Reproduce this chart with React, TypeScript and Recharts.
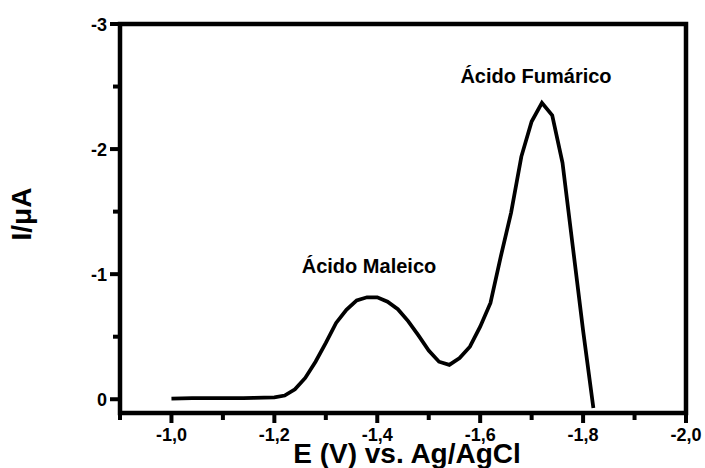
import React from 'react';
import { LineChart, Line, XAxis, YAxis } from 'recharts';

// Differential pulse voltammogram: potential (V vs. Ag/AgCl) and current (µA)
const potential = [
  -1.0, -1.02, -1.04, -1.06, -1.08, -1.1, -1.12, -1.14, -1.16, -1.18,
  -1.2, -1.22, -1.24, -1.26, -1.28, -1.3, -1.32, -1.34, -1.36, -1.38,
  -1.4, -1.42, -1.44, -1.46, -1.48, -1.5, -1.52, -1.54, -1.56, -1.58,
  -1.6, -1.62, -1.64, -1.66, -1.68, -1.7, -1.72, -1.74, -1.76, -1.78,
  -1.8, -1.82,
];
const current = [
  -0.005, -0.007, -0.008, -0.008, -0.008, -0.008, -0.008, -0.009, -0.01, -0.012,
  -0.015, -0.03, -0.08, -0.17, -0.3, -0.45, -0.61, -0.715, -0.79, -0.815,
  -0.815, -0.78, -0.72, -0.625, -0.51, -0.39, -0.3, -0.275, -0.33, -0.42,
  -0.58, -0.77, -1.14, -1.49, -1.94, -2.22, -2.37, -2.27, -1.89, -1.22,
  -0.55, 0.07,
];

const xDomain = [-2.0, -0.9];
const yDomain = [-3, 0.11];

const xMajorTicks = [-1.0, -1.2, -1.4, -1.6, -1.8, -2.0];
const xTickLabels = ['-1,0', '-1,2', '-1,4', '-1,6', '-1,8', '-2,0'];
const xMinorTicks = [-0.9, -1.1, -1.3, -1.5, -1.7, -1.9];

const yMajorTicks = [0, -1, -2, -3];
const yTickLabels = ['0', '-1', '-2', '-3'];
const yMinorTicks = [-0.5, -1.5, -2.5];

// Unlabelled divisions along the top and right borders
const frameTicks = [0, 1, 2, 3, 4, 5, 6, 7, 8, 9, 10];

const peakLabels = ['Ácido Maleico', 'Ácido Fumárico'];

const data = potential.map((e, i) => ({ e, i: current[i] }));

const FONT = '"Liberation Sans", Arial, Helvetica, sans-serif';
const W = 4.5;
const TW = 4;

// Plot box (chart pixels)
const BOX = { left: 120, top: 24, right: 686, bottom: 413 };

const XTick = (props: any) => {
  const { x, y, payload } = props;
  const px = Number(x);
  const py = Number(y);
  const idx = xMajorTicks.indexOf(payload.value);
  const major = idx >= 0;
  return (
    <g>
      <path d={`M${px},${py}V${py + (major ? 10 : 7)}`} stroke="#000" strokeWidth={TW} fill="none" />
      {major && (
        <text x={px} y={py + 28} textAnchor="middle" fontFamily={FONT} fontWeight="bold" fontSize={18} fill="#000">
          {xTickLabels[idx]}
        </text>
      )}
    </g>
  );
};

const YTick = (props: any) => {
  const { x, y, payload } = props;
  const px = Number(x);
  const py = Number(y);
  const idx = yMajorTicks.indexOf(payload.value);
  const major = idx >= 0;
  const len = major ? 10 : 7;
  return (
    <g>
      <path d={`M${px - len},${py}H${px}`} stroke="#000" strokeWidth={TW} fill="none" />
      {major && (
        <text x={px - 13} y={py + 6.5} textAnchor="end" fontFamily={FONT} fontWeight="bold" fontSize={18} fill="#000">
          {yTickLabels[idx]}
        </text>
      )}
    </g>
  );
};

const TopTick = (props: any) => {
  const px = Number(props.x);
  const py = Number(props.y);
  return <path d={`M${px},${py}V${py - 4}`} stroke="#000" strokeWidth={3} fill="none" />;
};

const RightTick = (props: any) => {
  const px = Number(props.x);
  const py = Number(props.y);
  return <path d={`M${px},${py}H${px + 5}`} stroke="#000" strokeWidth={3} fill="none" />;
};

export default function App() {
  const frame = `M${BOX.left},${BOX.top}H${BOX.right}V${BOX.bottom}H${BOX.left}Z`;
  return (
    <div style={{ position: 'absolute', left: 0, top: 0, width: 705, height: 468 }}>
      <LineChart width={705} height={468} data={data} margin={{ top: 24, right: 19, bottom: 0, left: 0 }}>
        <XAxis
          xAxisId="main"
          dataKey="e"
          type="number"
          domain={xDomain}
          reversed
          allowDataOverflow
          ticks={[...xMinorTicks, ...xMajorTicks].sort((a, b) => b - a)}
          interval={0}
          tick={<XTick />}
          tickLine={false}
          tickSize={0}
          tickMargin={0}
          axisLine={false}
          height={55}
        />
        <XAxis
          xAxisId="top"
          orientation="top"
          type="number"
          domain={[0, 10]}
          ticks={frameTicks}
          interval={0}
          tick={<TopTick />}
          tickLine={false}
          tickSize={0}
          tickMargin={0}
          axisLine={false}
          height={0}
        />
        <YAxis
          yAxisId="main"
          type="number"
          domain={yDomain}
          reversed
          allowDataOverflow
          ticks={[...yMajorTicks, ...yMinorTicks].sort((a, b) => a - b)}
          interval={0}
          tick={<YTick />}
          tickLine={false}
          tickSize={0}
          tickMargin={0}
          axisLine={false}
          width={120}
        />
        <YAxis
          yAxisId="right"
          orientation="right"
          type="number"
          domain={[0, 10]}
          ticks={frameTicks}
          interval={0}
          tick={<RightTick />}
          tickLine={false}
          tickSize={0}
          tickMargin={0}
          axisLine={false}
          width={0}
        />
        {/* frame around the plot area */}
        <path d={frame} fill="none" stroke="#000" strokeWidth={W} strokeLinejoin="miter" />
        <Line
          xAxisId="main"
          yAxisId="main"
          type="linear"
          dataKey="i"
          stroke="#000"
          strokeWidth={3.75}
          strokeLinejoin="miter"
          dot={false}
          isAnimationActive={false}
        />
        <text x={369} y={273} textAnchor="middle" fontFamily={FONT} fontWeight="bold" fontSize={20} fill="#000">
          {peakLabels[0]}
        </text>
        <text x={536} y={83} textAnchor="middle" fontFamily={FONT} fontWeight="bold" fontSize={20} fill="#000">
          {peakLabels[1]}
        </text>
        <text x={407} y={463} textAnchor="middle" fontFamily={FONT} fontWeight="bold" fontSize={28} fill="#000">
          E (V) vs. Ag/AgCl
        </text>
        <text
          x={31}
          y={214}
          transform="rotate(-90, 31, 214)"
          textAnchor="middle"
          fontFamily={FONT}
          fontWeight="bold"
          fontSize={28}
          fill="#000"
        >
          I/μA
        </text>
      </LineChart>
    </div>
  );
}
